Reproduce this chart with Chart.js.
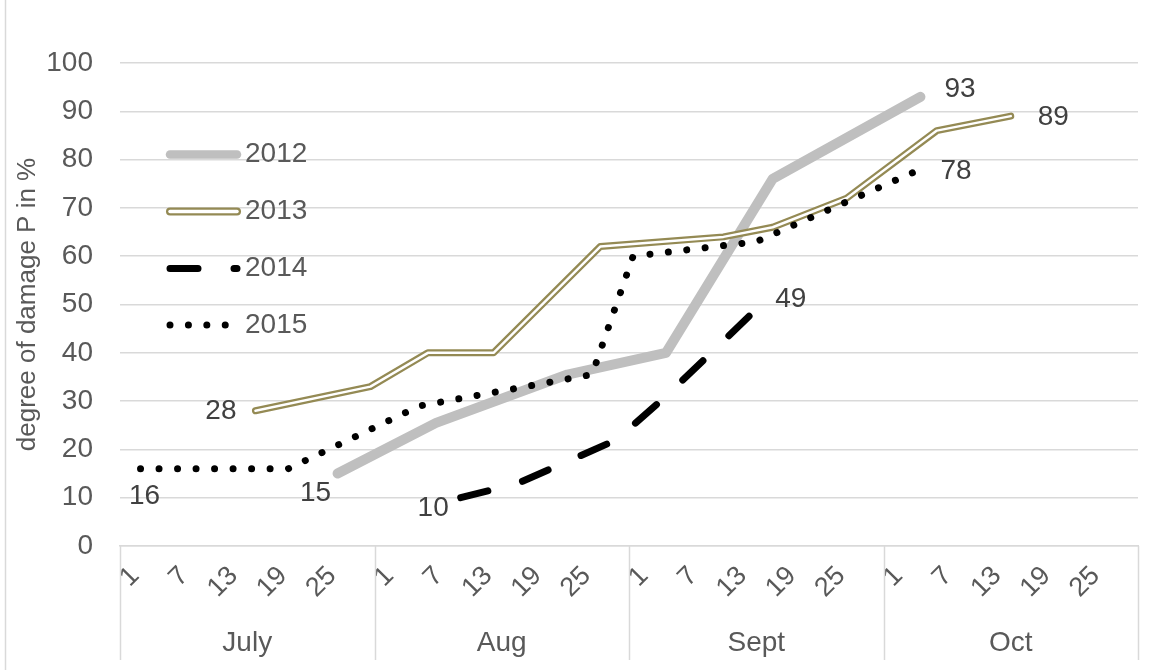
<!DOCTYPE html>
<html><head><meta charset="utf-8">
<script src="https://cdn.jsdelivr.net/npm/chart.js@4.4.1/dist/chart.umd.min.js"></script>
<style>html,body{margin:0;padding:0;background:#fff;} #wrap{width:1164px;height:670px;position:relative;}</style>
</head><body><div id="wrap"><canvas id="c" width="1164" height="670"></canvas></div>
<script>
// ---------- data ----------
const months = ['July', 'Aug', 'Sept', 'Oct'];
const monthNumbers = [7, 8, 9, 10];
const dayTicks = [1, 7, 13, 19, 25];
const yTicks = [0, 10, 20, 30, 40, 50, 60, 70, 80, 90, 100];
const seriesNames = ['2012', '2013', '2014', '2015'];

const dates2012 = ['07-27', '08-08', '08-24', '09-05', '09-18', '10-05'];
const values2012 = [15, 25.5, 35.5, 40, 76, 93];

const dates2013 = ['07-17', '07-31', '08-07', '08-15', '08-28', '09-12', '09-18', '09-27', '10-07', '10-16'];
const values2013 = [28, 33, 40, 40, 62, 64, 66, 72, 86, 89];

const dates2014 = ['08-11', '08-18', '08-30', '09-05', '09-16'];
const values2014 = [10, 13, 22, 31, 49];

const dates2015 = ['07-03', '07-21', '08-06', '08-27', '09-01', '09-16', '10-05'];
const values2015 = [16, 16, 29, 35.5, 60, 63, 78];

// ---------- helpers ----------
const SLOT = 31; // date-axis slots per month
function toX(s) { const [m, d] = s.split('-').map(Number); return monthNumbers.indexOf(m) * SLOT + d - 0.5; }
function pts(dates, vals) { return dates.map((s, i) => ({ x: toX(s), y: vals[i] })); }
const tickPositions = [];
months.forEach((_, mi) => dayTicks.forEach(d => tickPositions.push(mi * SLOT + d - 0.5)));

const FONT = "'Liberation Sans', Arial, sans-serif";
const TXT = '#595959';
const GRID = '#d9d9d9';
const OLIVE = '#948a54';

const datasets = [
  { label: seriesNames[0], data: pts(dates2012, values2012), borderColor: '#bfbfbf', borderWidth: 10, order: 4 },
  { label: seriesNames[1], data: pts(dates2013, values2013), borderColor: OLIVE, borderWidth: 7, order: 3 },
  { label: seriesNames[1] + '-inner', data: pts(dates2013, values2013), borderColor: '#ffffff', borderWidth: 2.5, order: 2 },
  { label: seriesNames[2], data: pts(dates2014, values2014), borderColor: '#000000', borderWidth: 7, borderDash: [28, 36], order: 1 },
  { label: seriesNames[3], data: pts(dates2015, values2015), borderColor: '#000000', borderWidth: 7, borderDash: [0.01, 18.5], order: 0 }
].map(d => Object.assign({ pointRadius: 0, borderCapStyle: 'round', borderJoinStyle: 'round', tension: 0, fill: false }, d));

// data label placement (dataset index, which end, offsets, alignment)
const labelSpecs = [
  { ds: 0, at: 'first', dx: -22, dy: 20, align: 'center' },
  { ds: 0, at: 'last', dx: 24, dy: -8, align: 'left' },
  { ds: 1, at: 'first', dx: -19, dy: 1, align: 'right' },
  { ds: 1, at: 'last', dx: 27, dy: 1, align: 'left' },
  { ds: 3, at: 'first', dx: -12, dy: 11, align: 'right' },
  { ds: 3, at: 'last', dx: 19, dy: -10, align: 'left' },
  { ds: 4, at: 'first', dx: 4, dy: 28, align: 'center' },
  { ds: 4, at: 'last', dx: 20, dy: 2, align: 'left' }
];

const decor = {
  id: 'decor',
  beforeDraw(chart) {
    const ctx = chart.ctx;
    ctx.save();
    ctx.fillStyle = '#fff';
    ctx.fillRect(0, 0, chart.width, chart.height);
    ctx.strokeStyle = GRID; ctx.lineWidth = 1.5;
    ctx.beginPath(); ctx.moveTo(5.5, 0); ctx.lineTo(5.5, chart.height); ctx.stroke();
    ctx.restore();
  },
  afterDraw(chart) {
    const ctx = chart.ctx;
    const xs = chart.scales.x;
    const area = chart.chartArea;
    ctx.save();
    // month separators
    ctx.strokeStyle = GRID; ctx.lineWidth = 1.5;
    for (let mi = 0; mi <= months.length; mi++) {
      const px = Math.round(xs.getPixelForValue(mi * SLOT)) + 0.5;
      ctx.beginPath(); ctx.moveTo(px, area.bottom); ctx.lineTo(px, 660); ctx.stroke();
    }
    // data labels
    ctx.font = '28px ' + FONT;
    ctx.fillStyle = '#404040';
    ctx.textBaseline = 'middle';
    labelSpecs.forEach(s => {
      const meta = chart.getDatasetMeta(s.ds);
      const idx = s.at === 'first' ? 0 : meta.data.length - 1;
      const p = meta.data[idx];
      const v = chart.data.datasets[s.ds].data[idx].y;
      ctx.textAlign = s.align;
      ctx.fillText(String(Math.round(v)), p.x + s.dx, p.y + s.dy);
    });
    // legend
    const rows = [154.5, 211.5, 268.5, 325];
    const x0 = 170, x1 = 237;
    const legendStyles = [
      [{ c: '#bfbfbf', w: 8.5 }],
      [{ c: OLIVE, w: 8 }, { c: '#ffffff', w: 3.5 }],
      [{ c: '#000000', w: 7, dash: [28, 36] }],
      [{ c: '#000000', w: 7, dash: [0.01, 18.4] }]
    ];
    seriesNames.forEach((name, i) => {
      const y = rows[i];
      legendStyles[i].forEach(st => {
        ctx.strokeStyle = st.c; ctx.lineWidth = st.w; ctx.lineCap = 'round';
        ctx.setLineDash(st.dash || []);
        ctx.beginPath(); ctx.moveTo(x0, y); ctx.lineTo(x1, y); ctx.stroke();
      });
      ctx.setLineDash([]);
      ctx.fillStyle = TXT; ctx.textAlign = 'left'; ctx.textBaseline = 'middle';
      ctx.font = '28px ' + FONT;
      ctx.fillText(name, 245, y);
    });
    ctx.restore();
  }
};

new Chart(document.getElementById('c'), {
  type: 'line',
  data: { datasets },
  options: {
    responsive: false,
    animation: false,
    devicePixelRatio: 1,
    layout: { padding: { left: 0, top: 63, right: 26, bottom: 0 } },
    plugins: { legend: { display: false }, tooltip: { enabled: false } },
    scales: {
      x: {
        type: 'linear', position: 'bottom', weight: 0,
        min: 0, max: months.length * SLOT,
        afterBuildTicks: sc => { sc.ticks = tickPositions.map(v => ({ value: v })); },
        afterFit: sc => { sc.height = 70; },
        grid: { display: false, drawTicks: false },
        border: { display: true, color: GRID, width: 1.5 },
        ticks: {
          autoSkip: false, minRotation: 45, maxRotation: 45,
          padding: 16, labelOffset: 11,
          color: TXT, font: { family: FONT, size: 27, lineHeight: 1 },
          callback: (v, i) => String(dayTicks[i % dayTicks.length])
        }
      },
      x2: {
        type: 'category', position: 'bottom', weight: 1,
        labels: months, offset: true,
        afterFit: sc => { sc.height = 54; },
        grid: { display: false, drawTicks: false },
        border: { display: false },
        ticks: { padding: 10, color: TXT, font: { family: FONT, size: 28 } }
      },
      y: {
        min: 0, max: 100,
        afterBuildTicks: sc => { sc.ticks = yTicks.map(v => ({ value: v })); },
        afterFit: sc => { sc.width = 120; },
        grid: { color: GRID, lineWidth: 1.5, drawTicks: false },
        border: { display: false },
        ticks: { padding: 27, color: TXT, font: { family: FONT, size: 28 } },
        title: {
          display: true, text: 'degree of damage P in %', color: TXT,
          font: { family: FONT, size: 26 }, padding: { top: 12, bottom: 0 }
        }
      }
    }
  },
  plugins: [decor]
});
</script>
</body></html>
